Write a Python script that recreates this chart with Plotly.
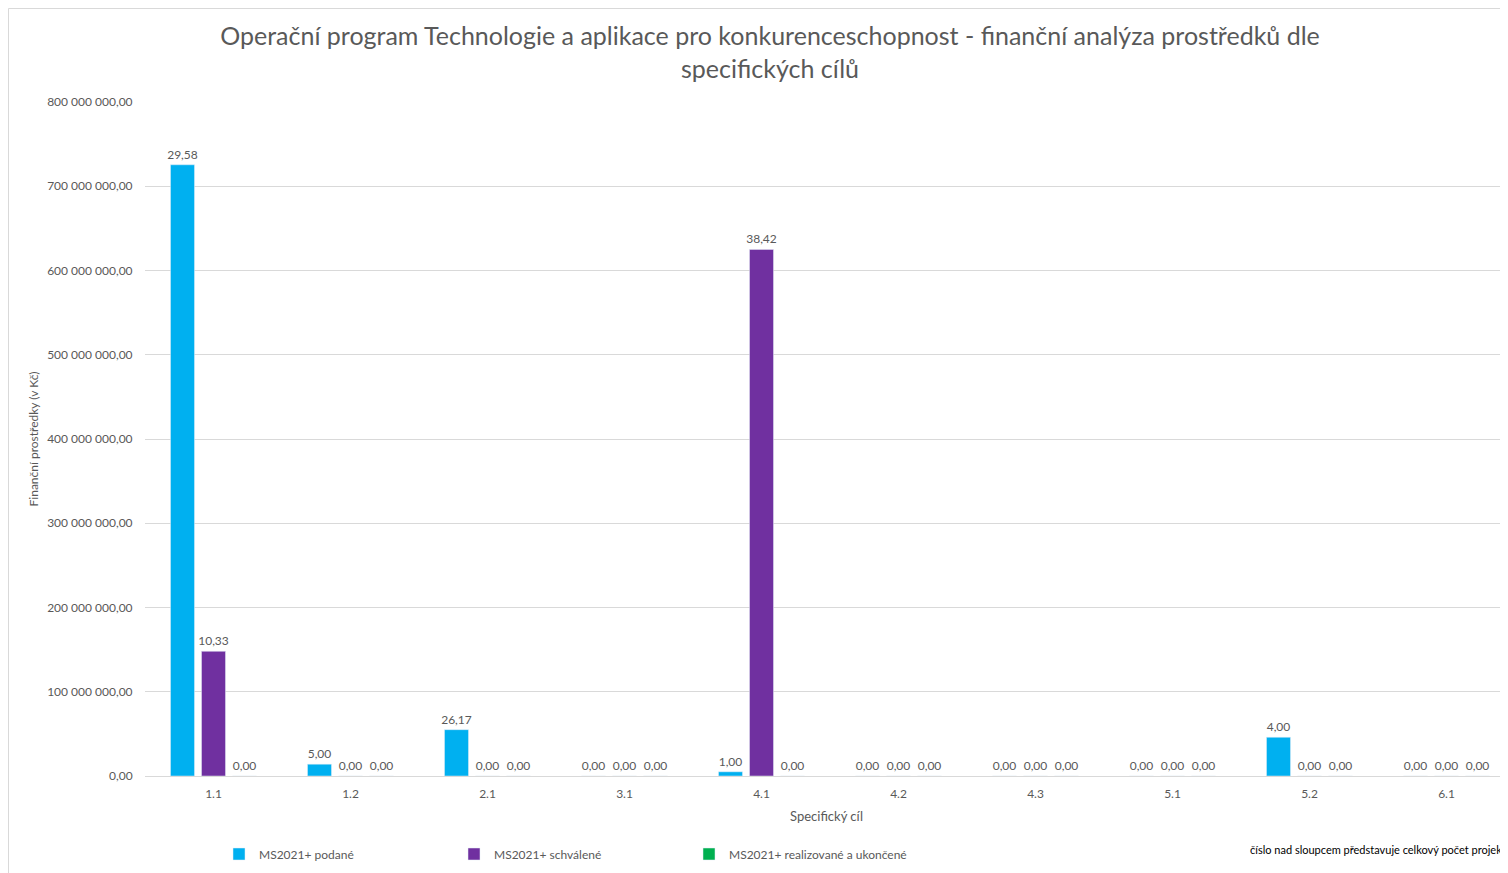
import plotly.graph_objects as go

categories = ["1.1", "1.2", "2.1", "3.1", "4.1", "4.2", "4.3", "5.1", "5.2", "6.1"]
podane_values = [725_500_000, 14_000_000, 55_000_000, 0, 5_000_000, 0, 0, 0, 46_000_000, 0]
schvalene_values = [148_000_000, 0, 0, 0, 625_000_000, 0, 0, 0, 0, 0]
realizovane_values = [0, 0, 0, 0, 0, 0, 0, 0, 0, 0]
podane_counts = ["29,58", "5,00", "26,17", "0,00", "1,00", "0,00", "0,00", "0,00", "4,00", "0,00"]
schvalene_counts = ["10,33", "0,00", "0,00", "0,00", "38,42", "0,00", "0,00", "0,00", "0,00", "0,00"]
realizovane_counts = ["0,00", "0,00", "0,00", "0,00", "0,00", "0,00", "0,00", "0,00", "0,00", "0,00"]
series_names = ["MS2021+ podané", "MS2021+ schválené", "MS2021+ realizované a ukončené"]
y_ticks = [0, 100_000_000, 200_000_000, 300_000_000, 400_000_000, 500_000_000, 600_000_000, 700_000_000, 800_000_000]
y_tick_labels = ["0,00", "100 000 000,00", "200 000 000,00", "300 000 000,00", "400 000 000,00",
                 "500 000 000,00", "600 000 000,00", "700 000 000,00", "800 000 000,00"]

FONT = "Lato"
GREY = "#595959"
colors = ["#00B0F0", "#7030A0", "#00B050"]

fig = go.Figure()
for name, vals, txt, col in zip(series_names,
                                [podane_values, schvalene_values, realizovane_values],
                                [podane_counts, schvalene_counts, realizovane_counts],
                                colors):
    fig.add_trace(go.Bar(
        x=categories, y=vals, name=name, marker_color=col,
        text=txt, textposition="outside", cliponaxis=False, constraintext="none",
        textfont=dict(family=FONT, size=12, color=GREY),
        hoverinfo="x+y",
    ))

# page body has an 8px margin: figure origin sits at window (8, 8)
OFF = 8
W, H = 1500, 865
ml, mr, mt, mb = 145 - OFF, 0, 102 - OFF, 97
pw = W - ml - mr
ph = H - mt - mb
cat_px = 137.0
x_end = -0.5 + pw / cat_px

fig.update_layout(
    width=W, height=H,
    margin=dict(l=ml, r=mr, t=mt, b=mb),
    paper_bgcolor="white", plot_bgcolor="white",
    barmode="group", bargap=0.321, bargroupgap=0.226,
    font=dict(family=FONT, color=GREY),
    title=dict(
        text="Operační program Technologie a aplikace pro konkurenceschopnost - finanční analýza prostředků dle<br>specifických cílů",
        x=(770 - OFF) / W, xanchor="center", y=1 - 37 / H, yanchor="middle",
        font=dict(family=FONT, size=25, color=GREY),
    ),
    xaxis=dict(
        range=[-0.5, x_end], type="category",
        showgrid=False, showline=True, linecolor="#D9D9D9", linewidth=1,
        ticks="outside", ticklen=7, tickcolor="rgba(0,0,0,0)",
        tickfont=dict(family=FONT, size=12, color=GREY),
        title=dict(text="Specifický cíl", font=dict(family=FONT, size=13, color=GREY), standoff=11),
    ),
    yaxis=dict(
        range=[0, 800_000_000], tickvals=y_ticks, ticktext=y_tick_labels,
        showgrid=True, gridcolor="#D9D9D9", gridwidth=1, zeroline=False,
        ticks="outside", ticklen=9, tickcolor="rgba(0,0,0,0)",
        tickfont=dict(family=FONT, size=12, color=GREY),
        title=dict(text="Finanční prostředky (v Kč)", font=dict(family=FONT, size=12, color=GREY), standoff=5),
    ),
    legend=dict(
        orientation="h", x=(219 - 145) / pw, xanchor="left", y=-(854 - 776) / ph, yanchor="middle",
        font=dict(family=FONT, size=12, color=GREY), itemwidth=30, entrywidth=190,
        traceorder="normal",
    ),
    showlegend=True,
)

fig.add_annotation(
    text="číslo nad sloupcem představuje celkový počet projektů",
    xref="paper", yref="paper",
    x=(1248 - 145) / pw, xanchor="left",
    y=-(850 - 776) / ph, yanchor="middle",
    showarrow=False, font=dict(family=FONT, size=11, color="black"),
)

fig.add_shape(
    type="rect", xref="paper", yref="paper",
    x0=(0.5 - ml) / pw, x1=(W + 20 - ml) / pw,
    y0=-(H + 20 - (H - mb)) / ph, y1=1 + (mt - 0.5) / ph,
    line=dict(color="#D9D9D9", width=1), fillcolor="rgba(0,0,0,0)", layer="below",
)

fig.write_html("out.html")
